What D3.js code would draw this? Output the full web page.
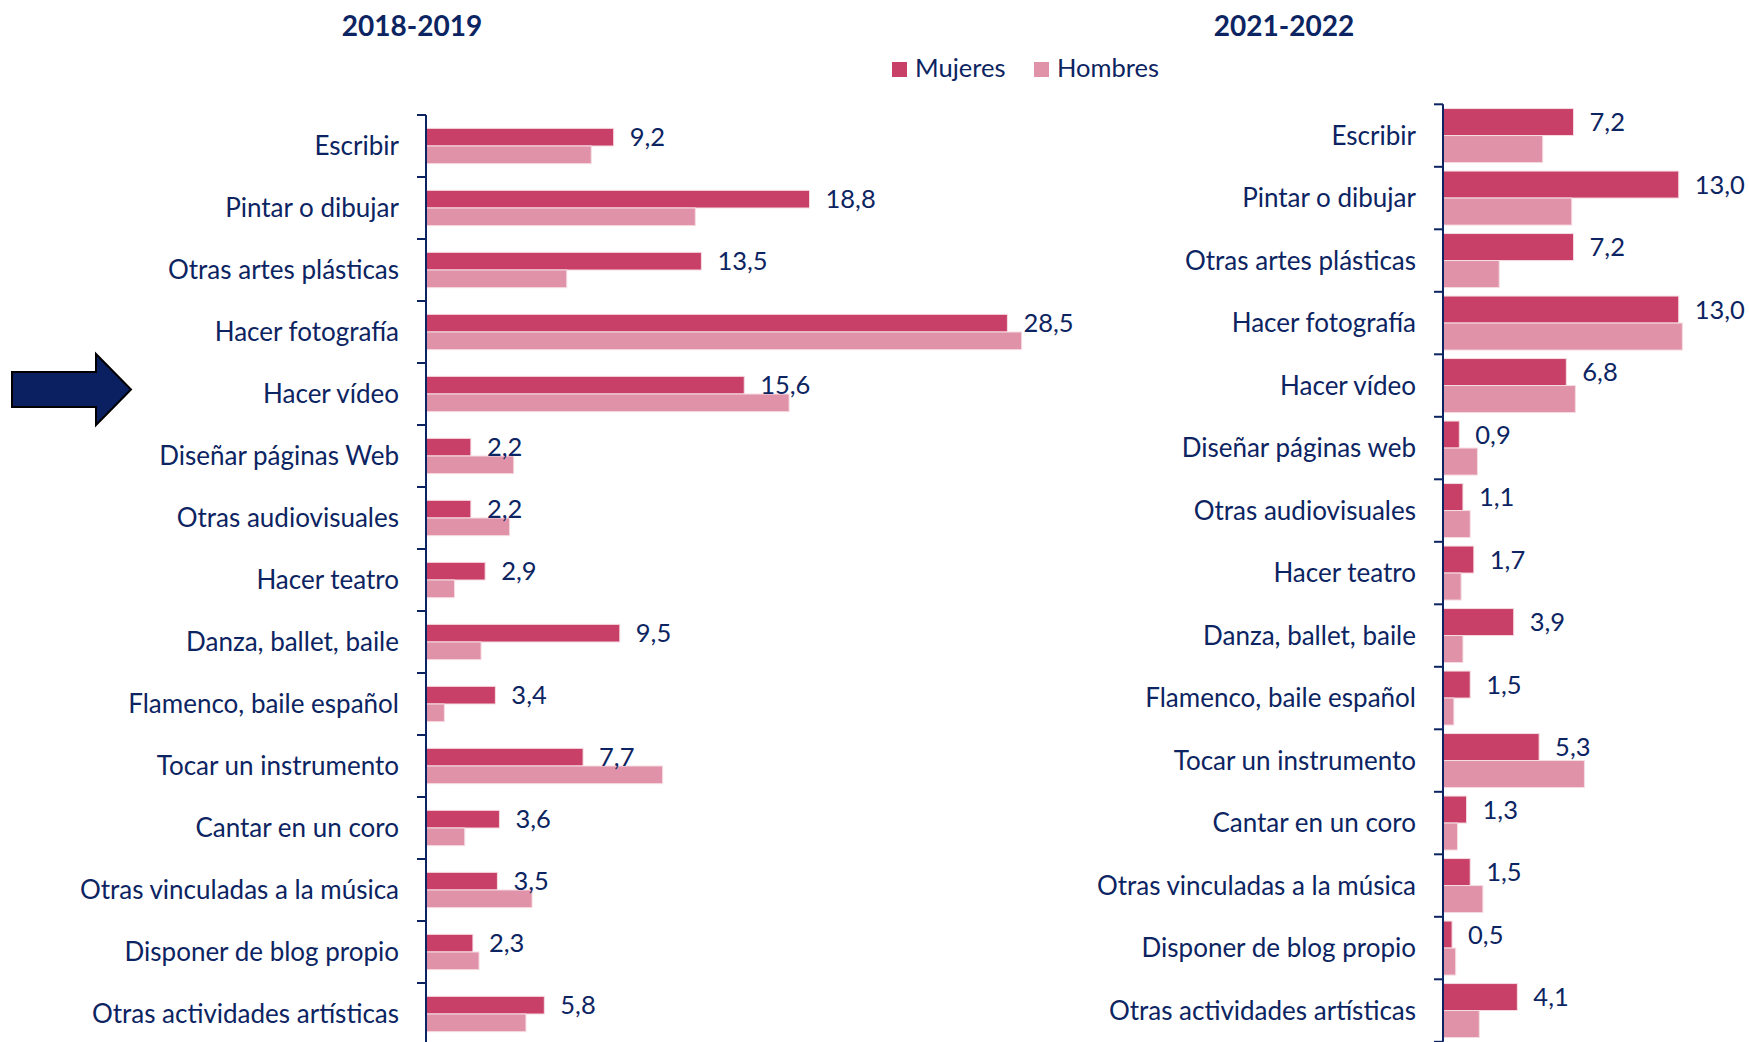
<!DOCTYPE html>
<html>
<head>
<meta charset="utf-8">
<script src="https://cdn.jsdelivr.net/npm/d3@7"></script>
<style>
  body { margin: 0; background: #fff; }
  svg text { font-family: Lato, "Open Sans", sans-serif; fill: #0C2461; }
</style>
</head>
<body>
<div id="chart"></div>
<script>
// Categories and values (%)
var categories2019 = ["Escribir", "Pintar o dibujar", "Otras artes plásticas", "Hacer fotografía",
  "Hacer vídeo", "Diseñar páginas Web", "Otras audiovisuales", "Hacer teatro",
  "Danza, ballet, baile", "Flamenco, baile español", "Tocar un instrumento",
  "Cantar en un coro", "Otras vinculadas a la música", "Disponer de blog propio",
  "Otras actividades artísticas"];
var categories2022 = ["Escribir", "Pintar o dibujar", "Otras artes plásticas", "Hacer fotografía",
  "Hacer vídeo", "Diseñar páginas web", "Otras audiovisuales", "Hacer teatro",
  "Danza, ballet, baile", "Flamenco, baile español", "Tocar un instrumento",
  "Cantar en un coro", "Otras vinculadas a la música", "Disponer de blog propio",
  "Otras actividades artísticas"];

var mujeres2019 = [9.2, 18.8, 13.5, 28.5, 15.6, 2.2, 2.2, 2.9, 9.5, 3.4, 7.7, 3.6, 3.5, 2.3, 5.8];
var hombres2019 = [8.1, 13.2, 6.9, 29.2, 17.8, 4.3, 4.1, 1.4, 2.7, 0.9, 11.6, 1.9, 5.2, 2.6, 4.9];
var mujeres2022 = [7.2, 13.0, 7.2, 13.0, 6.8, 0.9, 1.1, 1.7, 3.9, 1.5, 5.3, 1.3, 1.5, 0.5, 4.1];
var hombres2022 = [5.5, 7.1, 3.1, 13.2, 7.3, 1.9, 1.5, 1.0, 1.1, 0.6, 7.8, 0.8, 2.2, 0.7, 2.0];

var series = ["Mujeres", "Hombres"];
var colors = {"Mujeres": "#C84068", "Hombres": "#E093A8"};
var navy = "#0C2461";

var width = 1749, height = 1042;

var svg = d3.select("#chart").append("svg")
  .attr("width", width)
  .attr("height", height);

// one panel per survey year
function drawPanel(opts) {
  var rows = opts.cats.map(function(c, i) {
    return {cat: c, Mujeres: opts.m[i], Hombres: opts.h[i]};
  });

  var y = d3.scaleBand()
    .domain(opts.cats)
    .range(opts.yRange)
    .paddingInner(opts.pad)
    .paddingOuter(opts.pad / 2);

  var ySub = d3.scaleBand()
    .domain(series)
    .range([0, y.bandwidth()]);

  var x = d3.scaleLinear()
    .domain(opts.xDomain)
    .range(opts.xRange);

  var g = svg.append("g");

  // title
  g.append("text")
    .attr("x", opts.titleX)
    .attr("y", 36)
    .attr("text-anchor", "middle")
    .style("font-size", "28px")
    .style("font-weight", "bold")
    .text(opts.title);

  // bars
  var groups = g.selectAll(".grp")
    .data(rows)
    .enter().append("g")
    .attr("class", "grp")
    .attr("transform", function(d) { return "translate(0," + y(d.cat) + ")"; });

  groups.selectAll("rect")
    .data(function(d) { return series.map(function(s) { return {s: s, v: d[s]}; }); })
    .enter().append("rect")
    .attr("x", x(0))
    .attr("y", function(d) { return ySub(d.s); })
    .attr("width", function(d) { return x(d.v) - x(0); })
    .attr("height", ySub.bandwidth())
    .attr("fill", function(d) { return colors[d.s]; })
    .attr("stroke", "#F6DCE3")
    .attr("stroke-width", 1);

  // value labels (mujeres only)
  groups.append("text")
    .attr("x", function(d) { return x(d.Mujeres) + 16; })
    .attr("y", ySub("Mujeres") + ySub.bandwidth() / 2)
    .attr("dy", "0.36em")
    .style("font-size", "25.5px")
    .text(function(d) { return d3.format(".1f")(d.Mujeres).replace(".", ","); });

  // category labels
  g.selectAll(".cat")
    .data(rows)
    .enter().append("text")
    .attr("class", "cat")
    .attr("x", x(0) - 27)
    .attr("y", function(d) { return y(d.cat) + y.bandwidth() / 2; })
    .attr("dy", "0.36em")
    .attr("text-anchor", "end")
    .style("font-size", "26px")
    .text(function(d) { return d.cat; });

  // axis line with ticks between categories
  var half = (y.step() - y.bandwidth()) / 2;
  var bounds = opts.cats.map(function(c) { return y(c) - half; });
  bounds.push(y(opts.cats[opts.cats.length - 1]) + y.bandwidth() + half);

  g.append("line")
    .attr("x1", x(0)).attr("x2", x(0))
    .attr("y1", bounds[0]).attr("y2", bounds[bounds.length - 1])
    .attr("stroke", navy)
    .attr("stroke-width", 2);

  g.selectAll(".tk")
    .data(bounds)
    .enter().append("line")
    .attr("class", "tk")
    .attr("x1", x(0) - 9).attr("x2", x(0))
    .attr("y1", function(d) { return d; })
    .attr("y2", function(d) { return d; })
    .attr("stroke", navy)
    .attr("stroke-width", 2);
}

drawPanel({
  title: "2018-2019", titleX: 412,
  cats: categories2019, m: mujeres2019, h: hombres2019,
  yRange: [115, 1045], pad: 0.43,
  xDomain: [0, 30], xRange: [426, 1038]
});

drawPanel({
  title: "2021-2022", titleX: 1284,
  cats: categories2022, m: mujeres2022, h: hombres2022,
  yRange: [104.3, 1041.8], pad: 0.136,
  xDomain: [0, 15], xRange: [1443, 1715]
});

// legend
var legend = svg.append("g").attr("transform", "translate(892,62)");
var legX = [0, 142];
series.forEach(function(s, i) {
  legend.append("rect")
    .attr("x", legX[i]).attr("y", 0)
    .attr("width", 15).attr("height", 15)
    .attr("fill", colors[s]);
  legend.append("text")
    .attr("x", legX[i] + 23)
    .attr("y", 15)
    .style("font-size", "25.5px")
    .text(s);
});

// arrow pointing at "Hacer vídeo"
var arrow = [[12, 372], [96, 372], [96, 354], [131, 389.5], [96, 425], [96, 407], [12, 407]];
svg.append("path")
  .attr("d", d3.line()(arrow) + "Z")
  .attr("fill", "#0A2060")
  .attr("stroke", "#000")
  .attr("stroke-width", 2)
  .attr("stroke-linejoin", "miter");
</script>
</body>
</html>
